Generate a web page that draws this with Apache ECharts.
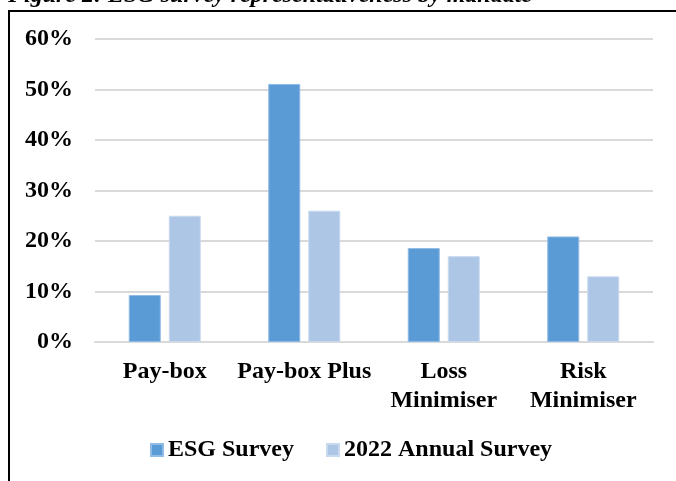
<!DOCTYPE html>
<html>
<head>
<meta charset="utf-8">
<script src="https://cdn.jsdelivr.net/npm/echarts@6/dist/echarts.min.js"></script>
<style>
html,body{margin:0;padding:0;background:#fff;}
#chart{width:676px;height:481px;}
</style>
</head>
<body>
<div id="chart"></div>
<script>
var categories = ['Pay-box', 'Pay-box Plus', 'Loss\nMinimiser', 'Risk\nMinimiser'];
var esgSurvey = [9.3, 51.1, 18.6, 20.9];
var annualSurvey2022 = [25, 26, 17, 13];
var seriesNames = ['ESG Survey', '2022 Annual Survey'];
var titleText = 'Figure 2: ESG survey representativeness by mandate';

var FONT = '"Liberation Serif", "Times New Roman", serif';
var chart = echarts.init(document.getElementById('chart'));
chart.setOption({
  animation: false,
  backgroundColor: '#fff',
  textStyle: { fontFamily: FONT },
  graphic: [
    { type: 'text', left: 8, top: -16, style: { text: titleText, font: 'italic bold 24px ' + FONT, fill: '#000' } },
    { type: 'line', shape: { x1: 8, y1: 11, x2: 676, y2: 11 }, style: { stroke: '#000', lineWidth: 2 } },
    { type: 'line', shape: { x1: 9, y1: 11, x2: 9, y2: 481 }, style: { stroke: '#000', lineWidth: 2 } }
  ],
  grid: { left: 95, right: 23, top: 39, bottom: 139, containLabel: false },
  legend: {
    top: 433,
    left: 145,
    itemWidth: 12,
    itemHeight: 12,
    itemGap: 32,
    icon: 'rect',
    textStyle: { fontFamily: FONT, fontSize: 24, fontWeight: 'bold', color: '#000' },
    data: seriesNames
  },
  xAxis: {
    type: 'category',
    data: categories,
    axisLine: { lineStyle: { color: '#d9d9d9', width: 2 } },
    axisTick: { show: false },
    axisLabel: { fontFamily: FONT, fontSize: 24, fontWeight: 'bold', color: '#000', margin: 15, lineHeight: 29, interval: 0 }
  },
  yAxis: {
    type: 'value',
    min: 0, max: 60, interval: 10,
    axisLine: { show: false },
    axisTick: { show: false },
    splitLine: { lineStyle: { color: '#d9d9d9', width: 2 } },
    axisLabel: { formatter: '{value}%', fontFamily: FONT, fontSize: 24, fontWeight: 'bold', color: '#000', margin: 22 }
  },
  series: [
    { name: seriesNames[0], type: 'bar', data: esgSurvey, barWidth: 32, barGap: '25%',
      itemStyle: { color: '#5b9bd5', borderColor: '#8fbbe6', borderWidth: 1 } },
    { name: seriesNames[1], type: 'bar', data: annualSurvey2022, barWidth: 32,
      itemStyle: { color: '#adc6e5', borderColor: '#c8daef', borderWidth: 1 } }
  ]
});
</script>
</body>
</html>
